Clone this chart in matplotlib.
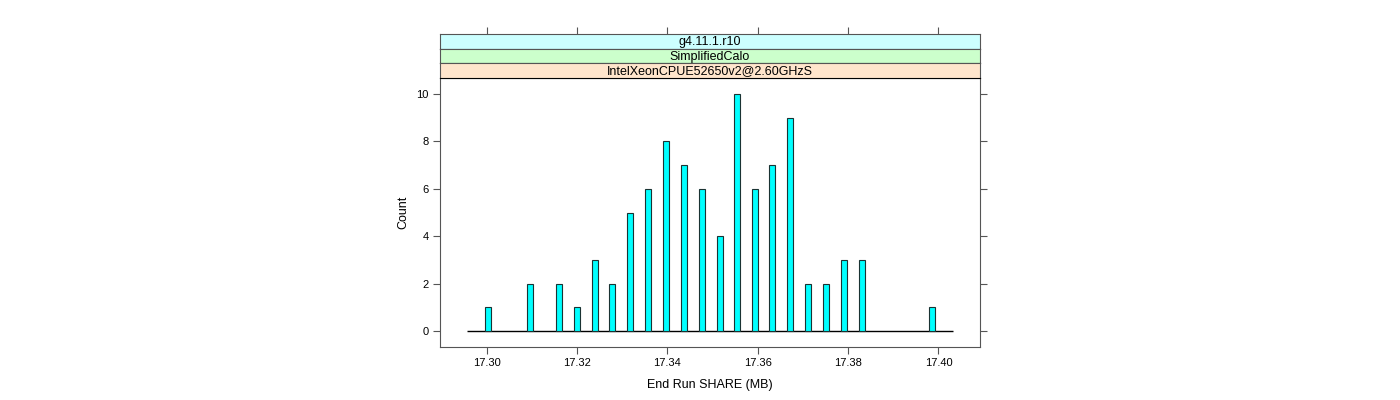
import matplotlib
matplotlib.use("Agg")
import matplotlib.pyplot as plt

# End Run SHARE values (MB) and how often each was seen
share_mb = [17.30035, 17.30952, 17.31601, 17.32006, 17.32398, 17.32781, 17.33180,
            17.33578, 17.33977, 17.34362, 17.34761, 17.35159, 17.35543, 17.35942,
            17.36324, 17.36723, 17.37121, 17.37507, 17.37905, 17.38304, 17.39867]
counts = [1, 2, 2, 1, 3, 2, 5, 6, 8, 7, 6, 4, 10, 6, 7, 9, 2, 2, 3, 3, 1]

strip_labels = ["g4.11.1.r10", "SimplifiedCalo", "IntelXeonCPUE52650v2@2.60GHzS"]
strip_colors = ["#ccffff", "#ccffcc", "#ffe5cc"]

xticks = [17.30, 17.32, 17.34, 17.36, 17.38, 17.40]
yticks = [0, 2, 4, 6, 8, 10]

plt.rcParams["font.family"] = ["Liberation Sans", "DejaVu Sans"]
frame_col = "#555555"

fig = plt.figure(figsize=(14, 4), dpi=100)
W, H = 1400, 400

# main panel: pixels 440..980 x 78..347
ax = fig.add_axes([440 / W, 1 - 347 / H, 540 / W, 269 / H])
bar_w = 0.00133
ax.bar(share_mb, counts, width=bar_w, color="#00ffff", edgecolor="#1a3333",
       linewidth=0.8, zorder=3)
pad = 3.5 * bar_w
ax.hlines(0, min(share_mb) - pad, max(share_mb) + pad, color="black",
          linewidth=1.0, zorder=2)
ax.set_xlim(17.2897, 17.4092)
ax.set_ylim(-0.68, 10.68)
ax.set_xticks(xticks)
ax.set_xticklabels([f"{t:.2f}" for t in xticks])
ax.set_yticks(yticks)
ax.tick_params(axis="both", direction="out", length=5, width=0.8,
               colors=frame_col, labelcolor="black", labelsize=8, pad=3)
ax.tick_params(axis="y", right=True)
for s in ax.spines.values():
    s.set_color(frame_col)
    s.set_linewidth(0.8)
ax.set_xlabel("End Run SHARE (MB)", fontsize=9, labelpad=8)
ax.set_ylabel("Count", fontsize=9, labelpad=5)

# strips above the panel, top one carries the upper ticks
strip_h = 14.6
top = 78 - 3 * strip_h
for i, (lab, col) in enumerate(zip(strip_labels, strip_colors)):
    y0 = top + i * strip_h
    sax = fig.add_axes([440 / W, 1 - (y0 + strip_h) / H, 540 / W, strip_h / H])
    sax.set_facecolor(col)
    sax.set_xlim(ax.get_xlim())
    sax.set_yticks([])
    if i == 0:
        sax.set_xticks(xticks)
        sax.tick_params(axis="x", direction="out", length=5, width=0.8,
                        colors=frame_col, bottom=False, top=True,
                        labelbottom=False, labeltop=False)
    else:
        sax.set_xticks([])
    for s in sax.spines.values():
        s.set_color(frame_col)
        s.set_linewidth(0.8)
    sax.spines["bottom"].set_color("black")
    sax.text(0.5, 0.45, lab, transform=sax.transAxes, ha="center",
             va="center", fontsize=9)

fig.savefig("out.png", dpi=100)
